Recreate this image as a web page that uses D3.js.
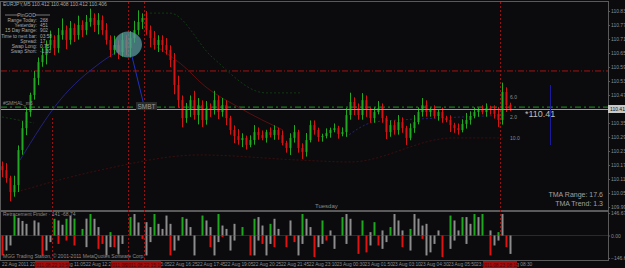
<!DOCTYPE html>
<html>
<head>
<meta charset="utf-8">
<script src="https://cdn.jsdelivr.net/npm/d3@7"></script>
<style>
  html, body { margin: 0; padding: 0; background: #0b0b0e; }
  svg { display: block; font-family: "Liberation Sans", Arial, sans-serif; }
</style>
</head>
<body>
<script>
// 画布尺寸
var w = 625, h = 268;
var plotRight = 608;

// K线数据（EURJPY M5，读图估算）
var firstOpen = 110.17;
var closes = [
  110.153, 110.119, 110.059, 110.089, 110.239, 110.333, 110.402, 110.475, 110.548, 110.616,
  110.646, 110.689, 110.711, 110.676, 110.732, 110.753, 110.711, 110.762, 110.732, 110.775,
  110.753, 110.788, 110.805, 110.775, 110.796, 110.753, 110.711, 110.668, 110.689, 110.659,
  110.711, 110.676, 110.719, 110.753, 110.788, 110.805, 110.753, 110.719, 110.689, 110.711,
  110.689, 110.668, 110.625, 110.518, 110.453, 110.376, 110.411, 110.453, 110.389, 110.432,
  110.368, 110.419, 110.411, 110.453, 110.402, 110.432, 110.376, 110.325, 110.299, 110.282,
  110.291, 110.261, 110.282, 110.316, 110.303, 110.291, 110.316, 110.303, 110.325, 110.303,
  110.269, 110.248, 110.291, 110.316, 110.248, 110.231, 110.282, 110.346, 110.325, 110.295,
  110.299, 110.312, 110.325, 110.333, 110.308, 110.316, 110.389, 110.445, 110.419, 110.389,
  110.453, 110.411, 110.376, 110.402, 110.419, 110.376, 110.316, 110.346, 110.325, 110.359,
  110.333, 110.291, 110.333, 110.359, 110.402, 110.432, 110.402, 110.411, 110.385, 110.402,
  110.376, 110.368, 110.346, 110.333, 110.325, 110.351, 110.368, 110.385, 110.402, 110.411,
  110.402, 110.419, 110.411, 110.394, 110.368, 110.488, 110.432, 110.415
];
// 上下影线长度（点）
var wickUp = [
  2, 3, 1, 4, 2, 3, 2, 1, 3, 2, 3, 2, 4, 2, 3, 5, 2, 3, 2, 4,
  2, 3, 4, 2, 3, 2, 3, 2, 4, 2, 3, 2, 3, 4, 5, 2, 3, 2, 3, 2,
  2, 3, 2, 3, 4, 2, 3, 2, 4, 3, 2, 3, 2, 4, 2, 3, 2, 1, 2, 3,
  2, 1, 2, 3, 2, 2, 1, 2, 2, 1, 2, 1, 2, 3, 1, 2, 3, 2, 2, 1,
  1, 2, 1, 2, 1, 2, 3, 4, 2, 2, 3, 2, 1, 2, 3, 2, 1, 2, 2, 3,
  2, 1, 2, 3, 2, 3, 2, 1, 2, 1, 2, 1, 2, 1, 2, 2, 3, 2, 2, 1,
  2, 2, 1, 2, 3, 4, 2, 1
];
var wickDn = [
  3, 2, 4, 2, 3, 2, 3, 2, 2, 3, 2, 4, 2, 3, 2, 2, 4, 2, 3, 2,
  3, 2, 2, 3, 4, 2, 2, 3, 2, 3, 2, 3, 4, 2, 2, 3, 2, 4, 2, 3,
  3, 2, 3, 4, 3, 4, 2, 3, 2, 4, 3, 2, 3, 2, 3, 2, 3, 2, 3, 2,
  3, 2, 1, 2, 2, 1, 2, 1, 2, 2, 1, 2, 3, 2, 2, 3, 2, 1, 2, 2,
  2, 1, 2, 1, 2, 1, 2, 2, 3, 2, 2, 3, 2, 2, 1, 2, 3, 2, 2, 2,
  2, 3, 1, 2, 1, 2, 2, 2, 1, 2, 2, 1, 3, 2, 2, 1, 2, 2, 1, 2,
  1, 2, 2, 2, 3, 2, 3, 1
];

// 价格刻度
var priceTicks = [110.835, 110.775, 110.715, 110.655, 110.595, 110.535, 110.475, 110.415,
  110.355, 110.295, 110.235, 110.175, 110.115, 110.055, 109.995];
var bid = 110.415;
var redLevel = 110.578, greenLevel = 110.423;

// TMA 线（部分可见） [bar, price]
var tmaMid = [[4.5, 110.196], [14.5, 110.453], [24.5, 110.612], [29.5, 110.668]];
var tmaMid2 = [[86, 110.295], [93, 110.359], [99.5, 110.368], [109, 110.376], [126, 110.389]];
var tmaUpper = [[37, 110.826], [42, 110.826], [52.5, 110.638], [66, 110.484], [74.5, 110.484]];
var tmaUpperLeft = [[0, 110.381], [8, 110.355]];
var tmaFall = [[38.75, 110.681], [46.5, 110.582], [49.5, 110.531], [59.5, 110.419], [70.25, 110.325]];
var tmaLower = [[2.75, 110.055], [24.5, 110.153], [49.5, 110.218], [74.5, 110.196], [87, 110.188],
  [112.75, 110.291], [125.25, 110.291]];

// 竖线（K线位置）与时间标签
var vLines = [12.5, 31.5, 35.5, 124.5];
var vLineTimes = ["2011.08.22 10:50", "2011.08.22 14:25", "2011.08.22 15:10", "2011.08.23 08:15"];
var timeLabels = ["22 Aug 2011", "22 Aug 09:45", "22 Aug 11:05", "22 Aug 12:25", "22 Aug 13:45",
  "22 Aug 15:05", "22 Aug 16:25", "22 Aug 17:45", "22 Aug 19:05", "22 Aug 20:25", "22 Aug 21:45",
  "22 Aug 23:10", "23 Aug 00:30", "23 Aug 01:50", "23 Aug 03:10", "23 Aug 04:30", "23 Aug 05:50",
  "23 Aug 07:10", "23 Aug 08:30"];

// 信息面板
var infoLabels = ["Range Today:", "Yesterday:", "15 Day Range:", "Time to next bar:", "Spread:", "Swap Long:", "Swap Short:"];
var infoValues = ["268", "451", "902", "03:58", "17", "0.75", "-1.30"];

// 副图 Retracement Finder 柱状图 [bar, value]
var upBars = [[3,130],[4,115],[5,95],[6,76],[8,98],[9,85],[13,109],[14,98],[15,70],[16,109],[17,130],[18,110],
  [20,43],[21,110],[22,140],[23,109],[24,55],[27,22],[32,120],[33,140],[34,85],[36,87],[37,55],[38,140],[39,76],
  [40,43],[41,130],[42,76],[45,120],[46,109],[47,55],[50,130],[51,98],[52,55],[54,140],[55,65],[56,43],[58,76],
  [60,55],[63,109],[64,120],[65,65],[67,76],[68,109],[69,43],[72,98],[75,140],[76,109],[77,55],[80,98],[82,33],
  [85,120],[86,140],[87,109],[90,98],[92,22],[93,87],[95,33],[97,55],[98,140],[99,98],[100,33],[102,43],[103,140],
  [104,110],[105,65],[106,76],[109,33],[112,130],[113,98],[114,33],[115,120],[116,120],[117,76],[118,140],[119,120],
  [120,140],[122,33],[124,22],[125,140]];
var upSignal = [3,13,16,18,20,22,27,32,38,45,50,54,60,63,67,75,80,85,90,93,97,102,112,115,118,120,124];
var dnBars = [[0,130],[1,98],[2,65],[10,130],[11,98],[12,43],[14,55],[16,33],[18,65],[21,76],[24,87],[25,55],
  [26,130],[27,76],[28,76],[29,120],[30,55],[35,22],[36,130],[37,43],[42,130],[43,98],[44,33],[48,130],[52,76],
  [53,130],[54,43],[55,11],[57,98],[58,33],[62,130],[63,130],[64,33],[65,55],[66,130],[67,55],[68,76],[71,76],
  [73,43],[74,130],[75,55],[78,140],[79,76],[80,55],[81,33],[83,87],[86,55],[89,120],[91,110],[92,65],[94,65],
  [95,87],[96,43],[100,76],[102,98],[105,22],[106,130],[107,110],[108,55],[110,140],[112,87],[113,33],[116,55],
  [122,130],[123,65],[124,33],[126,76],[127,120]];
var dnSignal = [0,10,14,16,18,24,25,28,35,42,52,55,62,65,68,71,73,78,81,89,91,94,100,105,110,122,126];
var indTicks = [146.67, 0, -146.67];

// 颜色
var bull = "#22a822", bear = "#d41515", grid = "#5a5a5a", txt = "#a8a8a8";

var svg = d3.select("body").append("svg").attr("width", w).attr("height", h);
svg.append("rect").attr("width", w).attr("height", h).attr("fill", "#0b0b0e");

// 比例尺
var xScale = d3.scaleLinear().domain([0, closes.length - 1]).range([2, 510]);
var yScale = d3.scaleLinear().domain([109.995, 110.835]).range([207, 11]);
var yInd = d3.scaleLinear().domain([-146.67, 146.67]).range([258, 213]);
var xTime = d3.scaleLinear().domain([0, timeLabels.length - 1]).range([2, 504]);

// 组装 OHLC
var bars = closes.map(function (c, i) {
  var o = i === 0 ? firstOpen : closes[i - 1];
  return {
    i: i, open: o, close: c,
    high: Math.max(o, c) + wickUp[i] * 0.01,
    low: Math.min(o, c) - wickDn[i] * 0.01
  };
});

// 主图、副图边框
svg.append("rect").attr("x", 0.5).attr("y", 1.5).attr("width", plotRight).attr("height", 209)
  .attr("fill", "none").attr("stroke", grid);
svg.append("rect").attr("x", 0.5).attr("y", 211.5).attr("width", plotRight).attr("height", 49)
  .attr("fill", "none").attr("stroke", grid);

// 水平线
svg.append("line").attr("x1", 1).attr("x2", plotRight)
  .attr("y1", yScale(redLevel)).attr("y2", yScale(redLevel))
  .attr("stroke", "#a31212").attr("stroke-dasharray", "6,2,1,2");
svg.append("line").attr("x1", 1).attr("x2", plotRight)
  .attr("y1", yScale(greenLevel)).attr("y2", yScale(greenLevel))
  .attr("stroke", "#1b7d1b").attr("stroke-width", 1.4).attr("stroke-dasharray", "6,3,2,3");

// 竖线
svg.selectAll(".vline").data(vLines).enter().append("line")
  .attr("class", "vline")
  .attr("x1", function (d) { return Math.round(xScale(d)) + 0.5; })
  .attr("x2", function (d) { return Math.round(xScale(d)) + 0.5; })
  .attr("y1", function (d, i) { return i === 0 ? 118 : 2; })
  .attr("y2", function (d, i) { return i === 3 ? 236 : 260; })
  .attr("stroke", "#9a1010").attr("stroke-dasharray", "2,2");

// TMA 线（很暗）
var line = d3.line().x(function (d) { return xScale(d[0]); }).y(function (d) { return yScale(d[1]); })
  .curve(d3.curveMonotoneX);
svg.append("path").attr("d", line(tmaUpper)).attr("fill", "none").attr("stroke", "#0f3a10")
  .attr("stroke-dasharray", "2,2");
svg.append("path").attr("d", line(tmaUpperLeft)).attr("fill", "none").attr("stroke", "#0f3a10")
  .attr("stroke-dasharray", "2,2");
svg.append("path").attr("d", line(tmaLower)).attr("fill", "none").attr("stroke", "#3e0d0d")
  .attr("stroke-dasharray", "2,2");
svg.append("path").attr("d", line(tmaFall)).attr("fill", "none").attr("stroke", "#5c0e0e");
svg.append("path").attr("d", line(tmaMid)).attr("fill", "none").attr("stroke", "#22227a");
svg.append("path").attr("d", line(tmaMid2)).attr("fill", "none").attr("stroke", "#22227a")
  .attr("stroke-dasharray", "2,2");

// K线
var candles = svg.append("g");
candles.selectAll(".wick").data(bars).enter().append("line")
  .attr("x1", function (d) { return Math.round(xScale(d.i)) + 0.5; })
  .attr("x2", function (d) { return Math.round(xScale(d.i)) + 0.5; })
  .attr("y1", function (d) { return yScale(d.high); })
  .attr("y2", function (d) { return yScale(d.low); })
  .attr("stroke", function (d) { return d.close >= d.open ? bull : bear; });
candles.selectAll(".body").data(bars).enter().append("rect")
  .attr("x", function (d) { return Math.round(xScale(d.i)) - 0.5; })
  .attr("width", 2)
  .attr("y", function (d) { return yScale(Math.max(d.open, d.close)); })
  .attr("height", function (d) { return Math.max(1, Math.abs(yScale(d.open) - yScale(d.close))); })
  .attr("fill", function (d) { return d.close >= d.open ? bull : bear; });

// 当前价线
svg.append("line").attr("x1", 1).attr("x2", plotRight)
  .attr("y1", Math.round(yScale(bid)) + 0.5).attr("y2", Math.round(yScale(bid)) + 0.5)
  .attr("stroke", "#9c9c9c");

// 圆形标记
svg.append("ellipse").attr("cx", xScale(31.5)).attr("cy", yScale(110.691))
  .attr("rx", 14).attr("ry", 13).attr("fill", "#5a9a9e").attr("opacity", 0.75);
svg.append("line").attr("x1", xScale(32.5)).attr("y1", yScale(110.64))
  .attr("x2", xScale(35.5)).attr("y2", yScale(110.43)).attr("stroke", "#2030c0");

// 右侧价格轴
var yAxis = d3.axisRight(yScale).tickValues(priceTicks).tickSize(2).tickFormat(d3.format(".3f"));
var ax = svg.append("g").attr("transform", "translate(" + plotRight + ",0)").call(yAxis);
ax.select(".domain").remove();
ax.selectAll("line").attr("stroke", grid);
ax.selectAll("text").attr("fill", "#8a8a8a").attr("font-size", 5).attr("x", 3);

// 当前价标签
svg.append("rect").attr("x", plotRight).attr("y", yScale(bid) - 4).attr("width", 17).attr("height", 8).attr("fill", "#c8c8c8");
svg.append("text").attr("x", plotRight + 2).attr("y", yScale(bid) + 2).attr("font-size", 5)
  .attr("fill", "#111").text(d3.format(".3f")(bid));

// 副图轴
var indAxis = d3.axisRight(yInd).tickValues(indTicks).tickSize(2).tickFormat(d3.format(".2f"));
var ax2 = svg.append("g").attr("transform", "translate(" + plotRight + ",0)").call(indAxis);
ax2.select(".domain").remove();
ax2.selectAll("line").attr("stroke", grid);
ax2.selectAll("text").attr("fill", "#8a8a8a").attr("font-size", 5).attr("x", 3);

// 副图零线
svg.append("line").attr("x1", 1).attr("x2", plotRight).attr("y1", yInd(0)).attr("y2", yInd(0))
  .attr("stroke", "#2a2a2a");

// 柱状图
var hist = svg.append("g");
hist.selectAll(".up").data(upBars).enter().append("rect")
  .attr("x", function (d) { return Math.round(xScale(d[0])) - 0.5; })
  .attr("width", 2)
  .attr("y", function (d) { return yInd(d[1]); })
  .attr("height", function (d) { return yInd(0) - yInd(d[1]); })
  .attr("fill", function (d) { return upSignal.indexOf(d[0]) >= 0 ? "#1ea81e" : "#8c8c8c"; });
hist.selectAll(".dn").data(dnBars).enter().append("rect")
  .attr("x", function (d) { return Math.round(xScale(d[0])) - 0.5; })
  .attr("width", 2)
  .attr("y", yInd(0))
  .attr("height", function (d) { return yInd(-d[1]) - yInd(0); })
  .attr("fill", function (d) { return dnSignal.indexOf(d[0]) >= 0 ? "#e01313" : "#8c8c8c"; });

// 时间轴标签
svg.selectAll(".tlab").data(timeLabels).enter().append("text")
  .attr("x", function (d, i) { return xTime(i); })
  .attr("y", 266).attr("font-size", 4.8).attr("fill", "#8a8a8a")
  .text(function (d) { return d; });
var tb = svg.selectAll(".tbox").data(vLines).enter().append("g");
tb.append("rect").attr("x", function (d) { return xScale(d) - 17; }).attr("y", 261)
  .attr("width", 34).attr("height", 7).attr("fill", "#a40d0d");
tb.append("text").attr("x", function (d) { return xScale(d); }).attr("y", 266.5)
  .attr("text-anchor", "middle").attr("font-size", 4.8).attr("fill", "#4a0505")
  .text(function (d, i) { return vLineTimes[i]; });

// 信息面板
svg.append("text").attr("x", 3).attr("y", 6).attr("font-size", 5).attr("fill", txt)
  .text("EURJPY,M5  110.412 110.408 110.412 110.406");
svg.append("line").attr("x1", 5).attr("x2", 18).attr("y1", 15).attr("y2", 15).attr("stroke", "#777");
svg.append("line").attr("x1", 35).attr("x2", 50).attr("y1", 15).attr("y2", 15).attr("stroke", "#777");
svg.append("text").attr("x", 26.5).attr("y", 17).attr("text-anchor", "middle").attr("font-size", 5)
  .attr("fill", txt).text("PinGOD");
svg.selectAll(".il").data(infoLabels).enter().append("text")
  .attr("x", 37).attr("y", function (d, i) { return 22 + i * 5.2; })
  .attr("text-anchor", "end").attr("font-size", 4.8).attr("fill", txt).text(function (d) { return d; });
svg.selectAll(".iv").data(infoValues).enter().append("text")
  .attr("x", 40).attr("y", function (d, i) { return 22 + i * 5.2; })
  .attr("font-size", 4.8).attr("fill", txt).text(function (d) { return d; });

// 其它注记
svg.append("text").attr("x", 3).attr("y", 105).attr("font-size", 5).attr("fill", "#8a8a8a").text("#SMHAL_m5");
svg.append("rect").attr("x", 136).attr("y", 102).attr("width", 21).attr("height", 8).attr("fill", "#2a2a2a");
svg.append("text").attr("x", 146.5).attr("y", 108.5).attr("text-anchor", "middle").attr("font-size", 6.5)
  .attr("fill", "#9a9a9a").text("SMBT");
svg.append("text").attr("x", 315).attr("y", 208).attr("font-size", 6).attr("fill", "#8a8a8a").text("Tuesday");
svg.append("text").attr("x", 510).attr("y", 99).attr("font-size", 5).attr("fill", "#8a8a8a").text("6.0");
svg.append("text").attr("x", 510).attr("y", 119).attr("font-size", 5).attr("fill", "#8a8a8a").text("2.0");
svg.append("text").attr("x", 510).attr("y", 140).attr("font-size", 5).attr("fill", "#8a8a8a").text("10.0");
svg.append("text").attr("x", 525).attr("y", 117).attr("font-size", 9).attr("fill", "#bdbdbd").text("*110.41");
svg.append("line").attr("x1", 550.5).attr("x2", 550.5).attr("y1", 85).attr("y2", 145).attr("stroke", "#1c1c9a");
svg.append("text").attr("x", 603).attr("y", 197).attr("text-anchor", "end").attr("font-size", 7)
  .attr("fill", "#a0a0a0").text("TMA Range: 17.6");
svg.append("text").attr("x", 603).attr("y", 206).attr("text-anchor", "end").attr("font-size", 7)
  .attr("fill", "#a0a0a0").text("TMA Trend: 1.3");
svg.append("text").attr("x", 3).attr("y", 216).attr("font-size", 5).attr("fill", "#8a8a8a")
  .text("Retracement Finder · 141 -68.74");
svg.append("text").attr("x", 3).attr("y", 258).attr("font-size", 5).attr("fill", "#8a8a8a")
  .text("MGG Trading Station, © 2001-2011 MetaQuotes Software Corp.");
</script>
</body>
</html>
